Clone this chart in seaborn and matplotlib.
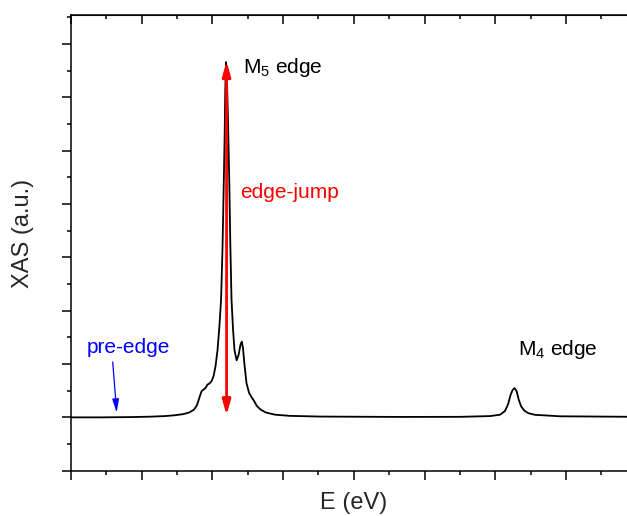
import matplotlib
matplotlib.use("Agg")
import matplotlib.pyplot as plt
import seaborn as sns
import pandas as pd
from matplotlib.ticker import MultipleLocator

# ---- data ----
energy = [875.00, 877.05, 879.17, 880.59, 881.65, 882.35, 882.92, 883.35, 883.70,
          883.91, 884.09, 884.23, 884.37, 884.51, 884.65, 884.79, 884.94, 885.08,
          885.22, 885.36, 885.50, 885.61, 885.71, 885.78, 885.86, 885.91, 885.96,
          886.02, 886.10, 886.19, 886.26, 886.35, 886.46, 886.56, 886.71, 886.85,
          886.99, 887.08, 887.16, 887.27, 887.41, 887.59, 887.76, 887.94, 888.15,
          888.44, 888.79, 889.43, 890.49, 892.61, 898.27, 902.51, 904.63, 905.34,
          905.69, 905.91, 906.08, 906.22, 906.36, 906.51, 906.65, 906.82, 907.04,
          907.32, 907.81, 908.52, 909.58, 915.00]
xas = [0.000, 0.000, 0.005, 0.013, 0.024, 0.040, 0.060, 0.090, 0.146,
       0.230, 0.380, 0.490, 0.520, 0.550, 0.615, 0.634, 0.680, 0.774,
       0.960, 1.260, 1.730, 2.200, 3.140, 4.080, 5.200, 6.140, 6.660,
       6.420, 5.580, 4.450, 3.320, 2.200, 1.640, 1.260, 1.070, 1.170,
       1.370, 1.420, 1.300, 0.980, 0.640, 0.460, 0.380, 0.310, 0.210,
       0.140, 0.090, 0.050, 0.028, 0.015, 0.008, 0.010, 0.024, 0.050,
       0.120, 0.250, 0.420, 0.510, 0.550, 0.490, 0.340, 0.210, 0.130,
       0.080, 0.047, 0.037, 0.020, 0.010]

edge_jump_x = 886.0
edge_jump_bottom = 0.04
edge_jump_top = 6.68
pre_edge_arrow_start = (877.95, 1.04)
pre_edge_arrow_end = (878.23, 0.09)

labels = {
    "m5": "M$_\\mathregular{5}$ edge",
    "m4": "M$_\\mathregular{4}$ edge",
    "jump": "edge-jump",
    "pre": "pre-edge",
}
label_pos = {
    "m5": (887.19, 6.45),
    "m4": (906.63, 1.17),
    "jump": (886.95, 4.11),
    "pre": (876.11, 1.20),
}

df = pd.DataFrame({"E": energy, "XAS": xas})

# ---- style ----
sns.set_style("ticks")
plt.rcParams["font.family"] = ["Liberation Sans", "DejaVu Sans"]
plt.rcParams["mathtext.fontset"] = "custom"
plt.rcParams["mathtext.rm"] = "Liberation Sans"
plt.rcParams["mathtext.it"] = "Liberation Sans:italic"

fig = plt.figure(figsize=(6.27, 5.16), dpi=100)
# axes extends past the right edge of the figure (the reference is cropped there)
ax = fig.add_axes([71 / 627, (516 - 470.7) / 516, (636.7 - 71) / 627, (470.7 - 15) / 516])

sns.lineplot(data=df, x="E", y="XAS", ax=ax, color="black", linewidth=1.3, sort=False)

ax.set_xlim(875, 915)
ax.set_ylim(-1, 7.544)

ax.xaxis.set_major_locator(MultipleLocator(5))
ax.xaxis.set_minor_locator(MultipleLocator(2.5))
ax.yaxis.set_major_locator(MultipleLocator(1))
ax.yaxis.set_minor_locator(MultipleLocator(0.5))
ax.tick_params(which="both", direction="out", labelbottom=False, labelleft=False,
               color="black", width=1.1)
ax.tick_params(which="major", length=6.5)
ax.tick_params(which="minor", length=3.2)
for s in ax.spines.values():
    s.set_visible(True)
    s.set_linewidth(1.1)
    s.set_color("black")

# top and right ticks pointing inward
top = ax.secondary_xaxis("top")
top.xaxis.set_major_locator(MultipleLocator(5))
top.xaxis.set_minor_locator(MultipleLocator(2.5))
top.tick_params(which="both", direction="in", labeltop=False, width=1.1, color="black")
top.tick_params(which="major", length=6.5)
top.tick_params(which="minor", length=3.2)
right = ax.secondary_yaxis("right")
right.yaxis.set_major_locator(MultipleLocator(1))
right.yaxis.set_minor_locator(MultipleLocator(0.5))
right.tick_params(which="both", direction="in", labelright=False, width=1.1, color="black")
right.tick_params(which="major", length=6.5)
right.tick_params(which="minor", length=3.2)

ax.set_xlabel("E (eV)", fontsize=17, va="center")
ax.set_ylabel("XAS (a.u.)", fontsize=17, va="center")
ax.xaxis.set_label_coords((354 - 71) / 565.7, -0.0709)
ax.yaxis.set_label_coords((23 - 71) / 565.7, 0.5216)

# edge-jump arrow
ax.annotate("", xy=(edge_jump_x, edge_jump_top), xytext=(edge_jump_x, edge_jump_bottom),
            arrowprops=dict(arrowstyle="<|-|>,head_length=0.9,head_width=0.25",
                            color="red", lw=2, mutation_scale=10,
                            shrinkA=0, shrinkB=0))
# pre-edge arrow
ax.annotate("", xy=pre_edge_arrow_end, xytext=pre_edge_arrow_start,
            arrowprops=dict(arrowstyle="-|>,head_length=0.8,head_width=0.2",
                            color="blue", lw=0.9, mutation_scale=10,
                            shrinkA=0, shrinkB=0))

ax.text(*label_pos["m5"], labels["m5"], fontsize=15, color="black", va="baseline", ha="left")
ax.text(*label_pos["m4"], labels["m4"], fontsize=15, color="black", va="baseline", ha="left")
ax.text(*label_pos["jump"], labels["jump"], fontsize=15, color="red", va="baseline", ha="left")
ax.text(*label_pos["pre"], labels["pre"], fontsize=15, color="blue", va="baseline", ha="left")

fig.savefig("out.png", dpi=100)
